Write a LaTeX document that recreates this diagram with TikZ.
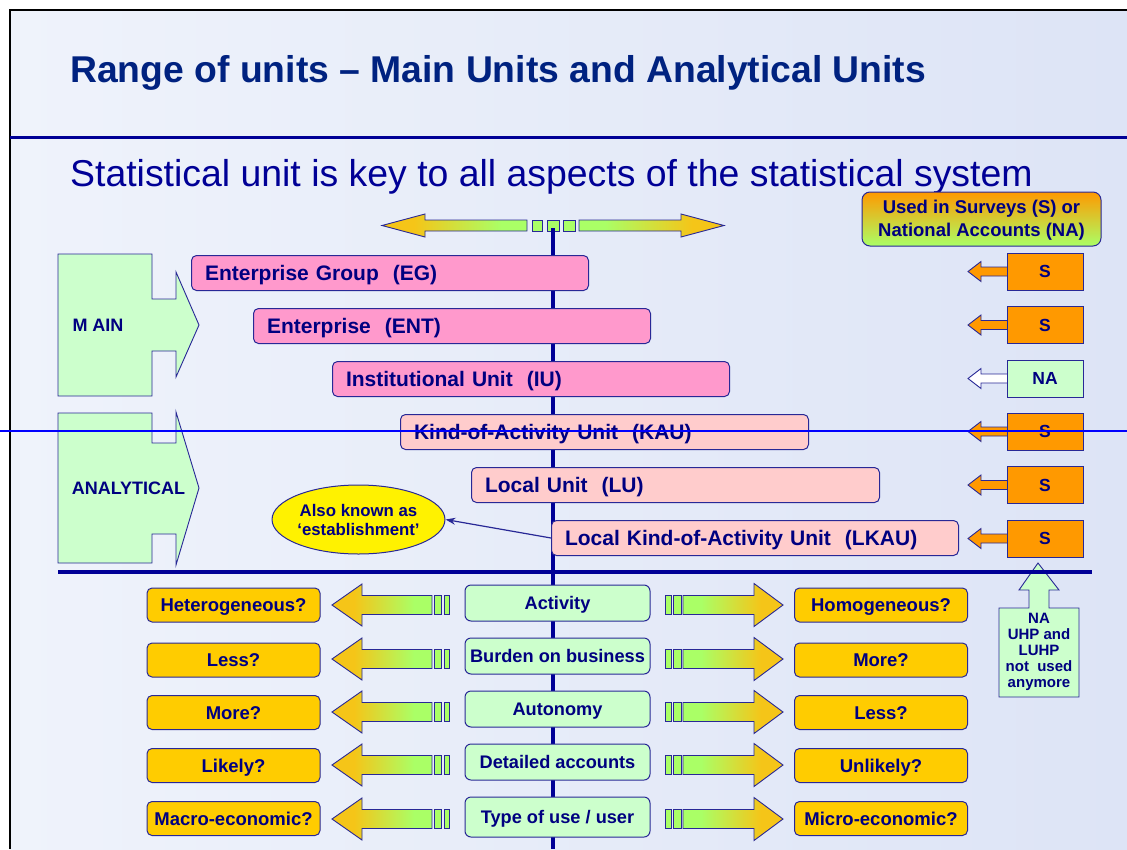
\documentclass[tikz,border=0pt]{standalone}
\usepackage{fontspec}
\setmainfont{Liberation Sans}
\usetikzlibrary{shapes.geometric,arrows.meta}

\definecolor{navy}{RGB}{0,0,128}
\definecolor{titleblue}{RGB}{0,34,128}
\definecolor{subblue}{RGB}{0,0,150}
\definecolor{rule}{RGB}{0,0,150}
\definecolor{edge}{RGB}{40,40,150}
\definecolor{pinkA}{RGB}{255,153,204}
\definecolor{pinkB}{RGB}{255,204,204}
\definecolor{mint}{RGB}{204,255,204}
\definecolor{amber}{RGB}{255,204,0}
\definecolor{orangeS}{RGB}{255,153,0}
\definecolor{goldtip}{RGB}{245,197,24}
\definecolor{lime}{RGB}{170,255,102}
\definecolor{bgL}{RGB}{239,243,251}
\definecolor{bgR}{RGB}{221,228,246}
\definecolor{lineblue}{RGB}{0,0,255}

% fat-arrow gradients: gold at the tip, green towards the tail
\pgfdeclarehorizontalshading{tipfadeL}{100bp}{color(0bp)=(goldtip); color(25bp)=(goldtip); color(36bp)=(goldtip); color(66bp)=(lime); color(100bp)=(lime)}
\pgfdeclarehorizontalshading{tipfadeR}{100bp}{color(0bp)=(lime); color(34bp)=(lime); color(64bp)=(goldtip); color(100bp)=(goldtip)}

\tikzset{
  unitbox/.style={draw=edge, line width=1pt, rounded corners=5pt, anchor=north west,
    minimum height=35pt, inner xsep=13.5pt, inner ysep=0pt, align=left, text=navy,
    text height=15pt, text depth=0pt, font=\fontsize{21}{25}\selectfont\bfseries},
  sbox/.style={draw=edge, line width=1pt, minimum width=76pt, minimum height=37pt,
    inner sep=0pt, text=navy, text depth=0pt, font=\fontsize{17.5}{20}\selectfont\bfseries},
  sidebox/.style={draw=edge, line width=1pt, rounded corners=5pt, fill=amber,
    minimum width=173pt, minimum height=34pt, inner sep=0pt, text=navy,
    text height=13pt, text depth=0pt, font=\fontsize{18.5}{21}\selectfont\bfseries},
  midbox/.style={draw=edge, line width=1pt, rounded corners=6pt, fill=mint,
    minimum width=185pt, inner sep=0pt, text=navy,
    text height=13pt, text depth=0pt, font=\fontsize{18.2}{21}\selectfont\bfseries},
  fatedge/.style={draw=edge, line width=0.9pt},
  sidelabel/.style={text=navy, font=\fontsize{18}{21}\selectfont\bfseries, inner sep=0pt},
}

% one row of the S / NA column: name, centre y, fill of box, fill of arrow, label
\newcommand\usagerow[5]{%
  \filldraw[fill=#4, fatedge] (968,#2) -- (981,#2-10) -- (981,#2-4.5) -- (1008,#2-4.5)
    -- (1008,#2+4.5) -- (981,#2+4.5) -- (981,#2+10) -- cycle;
  \node[sbox, fill=#3] (#1) at (1045,#2) {#5};
}

% one row of the comparison table below the units
% #1 index, #2 arrow centre, #3 side box centre, #4 middle box centre,
% #5 middle box height, #6 left text, #7 middle text, #8 right text
\newcommand\comparerow[8]{%
  \shadedraw[shading=tipfadeL, fatedge] (332,#2) -- (362,#2-21) -- (362,#2-9.5) -- (432,#2-9.5)
    -- (432,#2+9.5) -- (362,#2+9.5) -- (362,#2+21) -- cycle;
  \filldraw[fill=lime, fatedge] (434.5,#2-9.5) rectangle (441.5,#2+9.5);
  \filldraw[fill=lime, fatedge] (444,#2-9.5) rectangle (449,#2+9.5);
  \filldraw[fill=lime, fatedge] (665,#2-9.5) rectangle (671,#2+9.5);
  \filldraw[fill=lime, fatedge] (673,#2-9.5) rectangle (681,#2+9.5);
  \shadedraw[shading=tipfadeR, fatedge] (683,#2-9.5) -- (754,#2-9.5) -- (754,#2-21.5) -- (783,#2)
    -- (754,#2+21.5) -- (754,#2+9.5) -- (683,#2+9.5) -- cycle;
  \node[sidebox] (L#1) at (233.5,#3) {#6};
  \node[midbox, minimum height=#5] (C#1) at (557.5,#4) {#7};
  \node[sidebox] (R#1) at (881,#3) {#8};
}

\begin{document}
\begin{tikzpicture}[x=1pt,y=-1pt]
\useasboundingbox (0,0) rectangle (1127,849);

% slide background and frame
\fill[white] (0,0) rectangle (1127,849);
\shade[left color=bgL, right color=bgR] (10,10) rectangle (1127,849);
\draw[black, line width=2pt] (10,849) -- (10,10) -- (1127,10);

% heading
\node[anchor=base west, inner sep=0pt, text=titleblue, font=\fontsize{37.3}{41}\selectfont\bfseries]
  (title) at (70,82) {Range of units – Main Units and Analytical Units};
\draw[rule, line width=3pt] (10,137.5) -- (1127,137.5);
\node[anchor=base west, inner sep=0pt, text=subblue, font=\fontsize{37.4}{41}\selectfont]
  (subtitle) at (70,186) {Statistical unit is key to all aspects of the statistical system};

% double-headed scale arrow
\shadedraw[shading=tipfadeL, fatedge] (382,225.5) -- (425,214) -- (425,220) -- (527,220)
  -- (527,231) -- (425,231) -- (425,237) -- cycle;
\filldraw[fill=lime, fatedge] (532,220) rectangle (542,231);
\filldraw[fill=lime, fatedge] (547,220) rectangle (559,231);
\filldraw[fill=lime, fatedge] (563,220) rectangle (575,231);
\shadedraw[shading=tipfadeR, fatedge] (579,220) -- (681,220) -- (681,214) -- (724,225.5)
  -- (681,237) -- (681,231) -- (579,231) -- cycle;

% central axis
\draw[rule, line width=3.5pt] (553,228) -- (553,849);

% legend box
\node[draw=edge, line width=1pt, rounded corners=8pt, top color=orangeS, bottom color=lime,
  minimum width=239pt, minimum height=54pt, inner sep=0pt, align=center, text=navy,
  font=\fontsize{18.5}{23}\selectfont\bfseries] (legend) at (981.5,219)
  {\strut Used in Surveys (S) or\\National Accounts (NA)};

% MAIN and ANALYTICAL brackets
\filldraw[fill=mint, fatedge] (58,254) -- (152,254) -- (152,299) -- (176,299) -- (176,272)
  -- (199,325) -- (176,377) -- (176,351) -- (152,351) -- (152,396) -- (58,396) -- cycle;
\node[sidelabel] (main) at (98,325) {M AIN};
\filldraw[fill=mint, fatedge] (58,413) -- (152,413) -- (152,443) -- (176,443) -- (176,412)
  -- (199,488) -- (176,565) -- (176,534) -- (152,534) -- (152,563) -- (58,563) -- cycle;
\node[sidelabel] (analytical) at (128.5,488) {ANALYTICAL};

% the units
\node[unitbox, fill=pinkA, text width=370pt] (eg)  at (191,255) {Enterprise Group\ \ (EG)};
\node[unitbox, fill=pinkA, text width=370pt] (ent) at (253,308) {Enterprise\ \ (ENT)};
\node[unitbox, fill=pinkA, text width=370pt] (iu)  at (332,361) {Institutional Unit\ \ (IU)};
\node[unitbox, fill=pinkB, text width=381pt] (kau) at (400,414) {Kind-of-Activity Unit\ \ (KAU)};
\node[unitbox, fill=pinkB, text width=381pt] (lu)  at (471,467) {Local Unit\ \ (LU)};
\node[unitbox, fill=pinkB, text width=380pt] (lkau) at (551,520) {Local Kind-of-Activity Unit\ \ (LKAU)};

% usage column
\usagerow{u1}{271.5}{orangeS}{orangeS}{S}
\usagerow{u2}{325}{orangeS}{orangeS}{S}
\usagerow{u3}{378.5}{mint}{white}{NA}
\usagerow{u4}{431.5}{orangeS}{orangeS}{S}
\usagerow{u5}{485}{orangeS}{orangeS}{S}
\usagerow{u6}{538.5}{orangeS}{orangeS}{S}

% callout
\node[ellipse, draw=edge, line width=1pt, fill=yellow, minimum width=159pt, minimum height=69pt,
  inner sep=0pt, align=center, text=navy, font=\fontsize{16.8}{19}\selectfont\bfseries]
  (aka) at (358.5,519.5) {Also known as\\‘establishment’};
\draw[edge, line width=1.2pt, -{Stealth[length=10pt,width=7pt]}] (lkau.west) -- (aka.east);

% NA note with upward arrow
\filldraw[fill=mint, fatedge] (1038,563) -- (1059,590) -- (1049,590) -- (1049,608) -- (1079,608)
  -- (1079,697) -- (999,697) -- (999,608) -- (1029,608) -- (1029,590) -- (1019,590) -- cycle;
\node[align=center, inner sep=0pt, text=navy, font=\fontsize{15}{16}\selectfont\bfseries]
  (nanote) at (1039,652) {NA\\UHP and\\LUHP\\not\ \ used\\anymore};

% separator under the units
\draw[rule, line width=4pt] (58,572) -- (1092,572);

% comparison rows
\comparerow{1}{605}{605}{603}{36pt}{Heterogeneous?}{Activity}{Homogeneous?}
\comparerow{2}{659}{660}{656}{36pt}{Less?}{Burden on business}{More?}
\comparerow{3}{712}{712.5}{709}{36pt}{More?}{Autonomy}{Less?}
\comparerow{4}{765}{765.5}{762}{36pt}{Likely?}{Detailed accounts}{Unlikely?}
\comparerow{5}{819}{818.5}{817}{40pt}{Macro-economic?}{Type of use / user}{Micro-economic?}

% thin guide line across the slide
\draw[lineblue, line width=1.8pt] (0,431) -- (1127,431);
\end{tikzpicture}
\end{document}
